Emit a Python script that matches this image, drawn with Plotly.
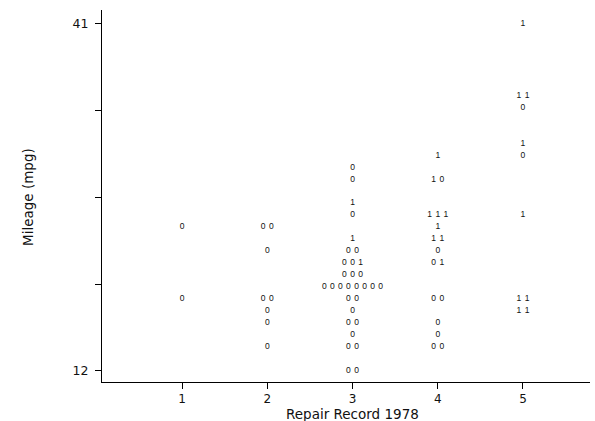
import plotly.graph_objects as go
import pandas as pd

# Repair record (category), mileage, and foreign marker (0 = domestic, 1 = foreign)
rep78 = ([1]*2 + [2]*8 + [3]*31 + [4]*18 + [5]*11)
mpg = [24, 18,
       24, 24, 22, 18, 18, 17, 16, 14,
       29, 28, 26, 25, 23, 22, 22, 21, 21, 21, 20, 20, 20,
       19, 19, 19, 19, 19, 19, 19, 19, 18, 18, 17, 16, 16, 15, 14, 14, 12, 12,
       30, 28, 28, 25, 25, 25, 24, 23, 23, 22, 21, 21, 18, 18, 16, 15, 14, 14,
       41, 35, 35, 34, 31, 30, 25, 18, 18, 17, 17]
foreign = [0, 0,
           0, 0, 0, 0, 0, 0, 0, 0,
           0, 0, 1, 0, 1, 0, 0, 0, 0, 1, 0, 0, 0,
           0, 0, 0, 0, 0, 0, 0, 0, 0, 0, 0, 0, 0, 0, 0, 0, 0, 0,
           1, 1, 0, 1, 1, 1, 1, 1, 1, 0, 0, 1, 0, 0, 0, 0, 0, 0,
           1, 1, 1, 0, 1, 0, 1, 1, 1, 1, 1]

x_ticks = [1, 2, 3, 4, 5]
y_ticks = [12, 19.25, 26.5, 33.75, 41]
y_ticktext = ["12", "", "", "", "41"]

df = pd.DataFrame({"rep78": rep78, "mpg": mpg, "foreign": foreign})
grp = df.groupby(["rep78", "mpg"], sort=False)
df["idx"] = grp.cumcount()
df["n"] = grp["foreign"].transform("size")
step = 0.094
df["xpos"] = df["rep78"] + (df["idx"] - (df["n"] - 1) / 2) * step

font = "DejaVu Sans, Liberation Sans, Arial, sans-serif"
mfont = "Liberation Sans, Arial, sans-serif"

W, H = 595, 421
ML, MR, MT, MB = 102, 5, 10, 39
plot_h = H - MT - MB
plot_w = W - ML - MR

fig = go.Figure(go.Scatter(
    x=df["xpos"], y=df["mpg"], mode="text",
    text=df["foreign"].astype(str),
    textposition="middle center",
    textfont=dict(family=mfont, size=8.5, color="#111111"),
    hoverinfo="skip", showlegend=False,
))

fig.update_layout(
    width=W, height=H,
    margin=dict(l=ML, r=MR, t=MT, b=MB),
    paper_bgcolor="white", plot_bgcolor="white",
    font=dict(family=font, size=12, color="#111111"),
    xaxis=dict(range=[0.0616, 5.786], tickvals=x_ticks, ticktext=[str(v) for v in x_ticks],
               showgrid=False, zeroline=False, showline=True, linecolor="black", linewidth=1,
               ticks="outside", ticklen=6, tickcolor="black", tickwidth=1,
               tickfont=dict(size=12)),
    yaxis=dict(range=[11.054, 42.17], tickvals=y_ticks, ticktext=y_ticktext,
               showgrid=False, zeroline=False, showline=True, linecolor="black", linewidth=1,
               ticks="outside", ticklen=6, tickcolor="black", tickwidth=1,
               ticklabelstandoff=4, tickfont=dict(size=12.5)),
    annotations=[
        dict(text="Repair Record 1978", x=3, y=(H - MB - 414) / plot_h, xref="x", yref="paper",
             showarrow=False, font=dict(size=13.5), yanchor="middle"),
        dict(text="Mileage (mpg)", x=(18 - ML) / plot_w, y=(H - MB - 197) / plot_h,
             xref="paper", yref="paper",
             showarrow=False, font=dict(size=13.5), textangle=-90),
    ],
)

fig.write_html("out.html", config={"displayModeBar": False},
               post_script="document.body.style.margin='0px';")
